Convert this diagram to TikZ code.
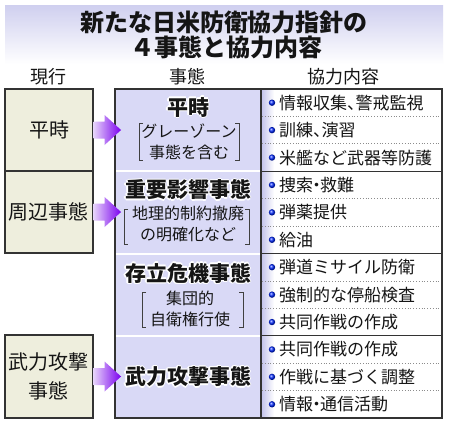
\documentclass[tikz,border=0pt]{standalone}
\usepackage{fontspec}
\setmainfont{Noto Sans CJK JP}
\usetikzlibrary{calc,shadings}

\definecolor{lav}{HTML}{D9D9F6}
\definecolor{lavedge}{HTML}{C4C4EC}
\definecolor{beige}{HTML}{EEEEDD}
\definecolor{bord}{HTML}{333333}
\definecolor{vio}{HTML}{7A00EE}
\definecolor{violight}{HTML}{E6D2FA}
\definecolor{titlebg}{HTML}{CFCFEF}
\definecolor{ink}{HTML}{151515}

\newcommand\fs[1]{\fontsize{#1}{#1}\selectfont}
\newcommand\halotitle[3]{%
  \foreach \a in {0,45,...,315}{\node[midtitle,text=white] at ($(#2)+(\a:1.4)$) {#3};}
  \node[midtitle] (#1) at (#2) {#3};}
\newcommand\fatarrow[1]{%
  \shade[left color=violight,right color=vio]
    ($(#1.east)+(0,-8.5)$) -- ($(#1.east)+(11,-8.5)$) -- ($(#1.east)+(11,-15)$) --
    ($(#1.east)+(27.5,0)$) -- ($(#1.east)+(11,15)$) -- ($(#1.east)+(11,8.5)$) --
    ($(#1.east)+(0,8.5)$) -- cycle;}
\newcommand\brackets[4]{% x1 x2 y1 y2
  \draw[bracket] (#1+4,#3) -- (#1,#3) -- (#1,#4) -- (#1+4,#4);
  \draw[bracket] (#2-4,#3) -- (#2,#3) -- (#2,#4) -- (#2-4,#4);}

\begin{document}
\begin{tikzpicture}[x=1pt,y=-1pt,
  box/.style={draw=bord,line width=1.1pt,inner sep=0pt},
  lefttext/.style={font=\fs{20},align=center,text=ink},
  hdr/.style={font=\fs{18},text=ink},
  midtitle/.style={font=\bfseries\fs{21},text=ink},
  brk/.style={font=\fontsize{16}{21}\selectfont,align=center,inner sep=0pt,text=ink},
  item/.style={font=\fs{17},anchor=west,inner sep=0pt,text=ink},
  dots/.style={draw=black!45,dotted,line width=0.8pt},
  bullet/.style={ball color=blue!85!cyan},
  bracket/.style={draw=black!75,line width=0.8pt}
]
\useasboundingbox (0,0) rectangle (450,424);
\fill[white] (0,0) rectangle (450,424);
\shade[top color=titlebg,bottom color=white] (5,5) rectangle (443,64);

% title
\node[font=\bfseries\fs{24},text=ink] (t1) at (224,22) {新たな日米防衛協力指針の};
\node[font=\bfseries\fs{24},text=ink] (t2) at (226,47) {４事態と協力内容};

% headers
\node[hdr] (h1) at (48,77) {現行};
\node[hdr] (h2) at (187,77) {事態};
\node[hdr] (h3) at (343,77) {協力内容};

% left boxes
\node[box,fill=beige,minimum width=88,minimum height=82,lefttext] (L1) at (49,130) {平時};
\node[box,fill=beige,minimum width=88,minimum height=82,lefttext] (L2) at (49,212) {周辺事態};
\node[box,fill=beige,minimum width=88,minimum height=83,lefttext,font=\fontsize{20}{29}\selectfont] (L3) at (49,376.5) {武力攻撃\\事態};

% middle column
\node[box,fill=lav,minimum width=146,minimum height=329] (M) at (188,253.5) {};
\foreach \yy in {171.25,253.5,335.75}{
  \draw[white,line width=2pt] (116,\yy) -- (260,\yy);
}

% right column
\node[box,fill=white,minimum width=181,minimum height=329] (R) at (351.5,253.5) {};
\shade[left color=lavedge,right color=white] (261.6,89.6) rectangle (274,417.4);
\foreach \k in {1,...,11}{
  \pgfmathsetmacro\yy{89+27.4167*\k}
  \pgfmathtruncatemacro\m{mod(\k,3)}
  \ifnum\m=0
    \draw[bord,line width=1.1pt] (261,\yy) -- (442,\yy);
  \else
    \draw[dots] (262,\yy) -- (441,\yy);
  \fi
}
\draw[bord,line width=1.1pt] (261,89) rectangle (442,418);
\draw[bord,line width=1.1pt] (115,89) rectangle (261,418);

\foreach \t [count=\i from 0] in {{情報収集、\kern-.5em警戒監視},{訓練、\kern-.5em演習},{米艦など武器等防護},{捜索\kern-.3em・\kern-.3em救難},{弾薬提供},{給油},{弾道ミサイル防衛},{強制的な停船検査},{共同作戦の作成},{共同作戦の作成},{作戦に基づく調整},{情報\kern-.3em・\kern-.3em通信活動}}{
  \pgfmathsetmacro\yy{89+27.4167*(\i+0.5)}
  \shade[bullet] (272,\yy) circle (3.2);
  \node[item] (it\i) at (279,\yy) {\t};
}

% middle texts
\halotitle{m1}{188,107}{平時}
\node[brk] (b1) at (189,141.5) {グレーゾーン\\事態を含む};
\brackets{139}{239}{123}{160}

\halotitle{m2}{188,190}{重要影響事態}
\node[brk] (b2) at (188,224) {地理的制約撤廃\\の明確化など};
\brackets{124}{249}{209}{244}

\halotitle{m3}{188,273}{存立危機事態}
\node[brk] (b3) at (190,309) {集団的\\自衛権行使};
\brackets{142}{243}{292}{327}

\halotitle{m4}{188,377}{武力攻撃事態}

% arrows
\fatarrow{L1}
\fatarrow{L2}
\fatarrow{L3}
\end{tikzpicture}
\end{document}
